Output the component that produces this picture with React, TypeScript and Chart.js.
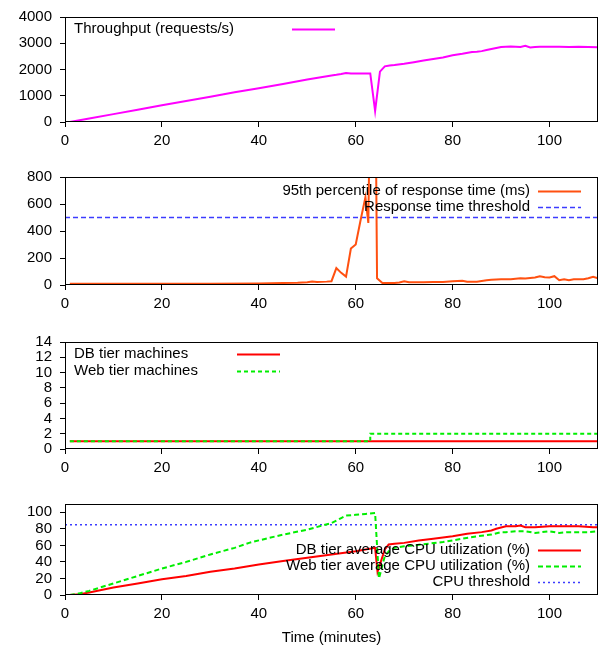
import React, { useEffect, useRef } from 'react';
import { Chart, registerables } from 'chart.js';

Chart.register(...registerables);

// ---------- data ----------
const X_MIN = 0;
const X_MAX = 110;
const xTicks = [0, 20, 40, 60, 80, 100];
const timeTitle = 'Time (minutes)';

const tpLabel = 'Throughput (requests/s)';
const tpTicks = [0, 1000, 2000, 3000, 4000];
const tpTimes = [1, 5, 10, 15, 20, 25, 30, 35, 40, 45, 50, 55, 56, 57, 58, 59, 60, 61, 62, 63, 64, 65, 66, 67, 68, 70, 72, 74, 75, 76, 78, 80, 82, 84, 85, 86, 87, 88, 90, 91, 92, 93, 94, 95, 96, 97, 98, 100, 102, 104, 106, 108, 110];
const tpValues = [0, 135, 300, 465, 635, 800, 965, 1130, 1285, 1450, 1615, 1775, 1800, 1830, 1870, 1845, 1845, 1845, 1845, 1850, 420, 1920, 2120, 2150, 2170, 2220, 2280, 2340, 2370, 2400, 2460, 2540, 2600, 2670, 2680, 2700, 2740, 2780, 2860, 2870, 2880, 2870, 2860, 2900, 2840, 2860, 2870, 2870, 2870, 2860, 2870, 2860, 2850];

const rtLabel = '95th percentile of response time (ms)';
const rtThresholdLabel = 'Response time threshold';
const rtThreshold = 500;
const rtTicks = [0, 200, 400, 600, 800];
const rtTimes = [1, 10, 20, 30, 40, 45, 48, 50, 51, 52, 54, 55, 56, 57, 58, 59, 60, 61, 62, 62.6, 63, 64, 64.4, 65.5, 68, 69, 70, 71, 74, 76, 78, 80, 82, 83, 85, 87, 88, 90, 92, 94, 95, 97, 98, 99, 100, 101, 102, 103, 104, 105, 107, 108, 109, 110];
const rtValues = [10, 10, 10, 10, 12, 14, 16, 20, 25, 22, 25, 28, 125, 90, 62, 270, 300, 480, 650, 460, 1500, 1800, 50, 15, 15, 18, 28, 20, 20, 22, 22, 28, 32, 25, 25, 35, 38, 42, 42, 50, 48, 55, 65, 58, 55, 65, 35, 42, 35, 42, 42, 50, 60, 50];

const dbMachLabel = 'DB tier machines';
const webMachLabel = 'Web tier machines';
const machTicks = [0, 2, 4, 6, 8, 10, 12, 14];
const machTimes = [1, 63, 110];
const dbMachines = [1, 1, 1];
const webMachines = [1, 2, 2];

const dbCpuLabel = 'DB tier average CPU utilization (%)';
const webCpuLabel = 'Web tier average CPU utilization (%)';
const cpuThresholdLabel = 'CPU threshold';
const cpuThreshold = 85;
const cpuTicks = [0, 20, 40, 60, 80, 100];
const dbCpuTimes = [1, 3, 5, 10, 15, 20, 25, 30, 35, 40, 45, 50, 55, 60, 62, 64, 64.5, 66, 66.8, 68, 70, 73, 76, 80, 83, 86, 88, 89, 91, 93, 94, 95, 97, 100, 103, 106, 109, 110];
const dbCpu = [0, 1, 3, 9, 14, 19, 23, 28, 32, 37, 41, 45, 49, 53, 55, 57, 28, 55, 61, 62, 63, 66, 68, 71, 74, 76, 78, 80, 83, 83, 84, 82, 82, 83, 83, 83, 82, 82];
const webCpuTimes = [1, 3, 5, 10, 15, 20, 25, 30, 35, 38, 40, 45, 50, 55, 57, 58, 60, 62, 64, 64.8, 66, 67, 68, 70, 72, 75, 78, 80, 82, 85, 88, 90, 91, 93, 95, 97, 100, 102, 104, 106, 108, 110];
const webCpu = [0, 2, 5, 14, 23, 32, 40, 49, 57, 63, 66, 73, 79, 87, 93, 96, 97, 98, 99, 20, 47, 54, 57, 59, 60, 62, 64, 66, 68, 71, 73, 76, 76, 77, 77, 75, 77, 75, 76, 76, 76, 77];

// ---------- helpers ----------
const FONT_FAMILY = '"Liberation Sans", Arial, Helvetica, sans-serif';
const FONT_SIZE = 15;

const pts = (xs: number[], ys: number[]) => xs.map((x, i) => ({ x, y: ys[i] }));
const hline = (v: number) => [{ x: X_MIN, y: v }, { x: X_MAX, y: v }];

const gnuPlugin = {
  id: 'gnu',
  afterDatasetsDraw(chart: any, _args: any, opts: any) {
    const { ctx, chartArea: a } = chart;
    ctx.save();
    ctx.strokeStyle = '#000';
    ctx.lineWidth = 1;
    ctx.setLineDash([]);
    ctx.strokeRect(Math.round(a.left) + 0.5, Math.round(a.top) + 0.5, Math.round(a.right - a.left) - 1, Math.round(a.bottom - a.top) - 1);
    const entries: number[] = opts.entries || [];
    ctx.font = `${FONT_SIZE}px ${FONT_FAMILY}`;
    ctx.textBaseline = 'middle';
    ctx.fillStyle = '#000';
    entries.forEach((di, row) => {
      const ds = chart.data.datasets[di];
      const y = a.top + opts.top + row * opts.row;
      if (opts.align === 'left') {
        ctx.textAlign = 'left';
        ctx.fillText(ds.label, a.left + opts.textX, y);
      } else {
        ctx.textAlign = 'right';
        ctx.fillText(ds.label, a.right - opts.textX, y);
      }
      const sx0 = opts.align === 'left' ? a.left + opts.sampleX0 : a.right - opts.sampleX0;
      const sx1 = opts.align === 'left' ? a.left + opts.sampleX1 : a.right - opts.sampleX1;
      ctx.beginPath();
      ctx.strokeStyle = ds.borderColor;
      ctx.lineWidth = ds.borderWidth;
      ctx.setLineDash(ds.borderDash || []);
      ctx.moveTo(sx0, Math.round(y) + 0.5);
      ctx.lineTo(sx1, Math.round(y) + 0.5);
      ctx.stroke();
    });
    ctx.restore();
  },
};

function makeOptions(p: any) {
  const font = { family: FONT_FAMILY, size: FONT_SIZE };
  return {
    responsive: false,
    animation: false,
    events: [],
    layout: { padding: { top: p.padTop, right: 2, left: 0, bottom: 0 } },
    plugins: {
      legend: { display: false },
      tooltip: { enabled: false },
      gnu: p.legend,
    },
    elements: { point: { radius: 0 }, line: { tension: 0 } },
    scales: {
      x: {
        type: 'linear',
        min: X_MIN,
        max: X_MAX,
        afterBuildTicks: (s: any) => { s.ticks = xTicks.map((v) => ({ value: v })); },
        afterFit: (s: any) => { s.height = p.xH; },
        grid: { drawOnChartArea: false, drawTicks: true, tickLength: 5, color: '#000' },
        border: { display: false },
        ticks: { color: '#000', font, padding: 5, maxRotation: 0, autoSkip: false, callback: (v: any) => String(v) },
        title: p.title
          ? { display: true, text: p.title, color: '#000', font, padding: { top: 4, bottom: 2 } }
          : { display: false },
      },
      y: {
        type: 'linear',
        min: p.yTicks[0],
        max: p.yMax,
        afterBuildTicks: (s: any) => { s.ticks = p.yTicks.map((v: number) => ({ value: v })); },
        afterFit: (s: any) => { s.width = 65; },
        grid: { drawOnChartArea: false, drawTicks: true, tickLength: 5, color: '#000' },
        border: { display: false },
        ticks: { color: '#000', font, padding: 8, autoSkip: false, callback: (v: any) => String(v) },
      },
    },
  };
}

const panels: any[] = [
  {
    top: 0, height: 160, padTop: 14, xH: 38, yTicks: tpTicks, yMax: 4000,
    legend: { entries: [0], align: 'left', textX: 9, top: 12, row: 17, sampleX0: 227, sampleX1: 270 },
    datasets: [
      { label: tpLabel, data: pts(tpTimes, tpValues), borderColor: '#ff00ff', borderWidth: 2 },
    ],
  },
  {
    top: 160, height: 160, padTop: 17, xH: 35, yTicks: rtTicks, yMax: 800,
    legend: { entries: [0, 1], align: 'right', textX: 68, top: 14, row: 16, sampleX0: 60, sampleX1: 17 },
    datasets: [
      { label: rtLabel, data: pts(rtTimes, rtValues), borderColor: '#ff5010', borderWidth: 2, order: 0, clip: 0 },
      { label: rtThresholdLabel, data: hline(rtThreshold), borderColor: '#3c3cff', borderWidth: 1.5, borderDash: [5, 3], order: 1 },
    ],
  },
  {
    top: 320, height: 165, padTop: 22, xH: 36, yTicks: machTicks, yMax: 14,
    legend: { entries: [0, 1], align: 'left', textX: 9, top: 12, row: 17, sampleX0: 172, sampleX1: 215 },
    datasets: [
      { label: dbMachLabel, data: pts(machTimes, dbMachines), borderColor: '#ff0000', borderWidth: 2, stepped: 'before', order: 1 },
      { label: webMachLabel, data: pts(machTimes, webMachines), borderColor: '#00ee00', borderWidth: 2, borderDash: [4, 3], stepped: 'before', order: 0 },
    ],
  },
  {
    top: 485, height: 164, padTop: 19, xH: 54, yTicks: cpuTicks, yMax: 110, title: timeTitle,
    legend: { entries: [0, 1, 2], align: 'right', textX: 68, top: 46, row: 16, sampleX0: 60, sampleX1: 17 },
    datasets: [
      { label: dbCpuLabel, data: pts(dbCpuTimes, dbCpu), borderColor: '#ff0000', borderWidth: 2, order: 1 },
      { label: webCpuLabel, data: pts(webCpuTimes, webCpu), borderColor: '#00ee00', borderWidth: 2, borderDash: [5, 3], order: 0 },
      { label: cpuThresholdLabel, data: hline(cpuThreshold), borderColor: '#3c3cff', borderWidth: 1.5, borderDash: [2, 3], order: 2 },
    ],
  },
];

function Panel({ p }: { p: any }) {
  const ref = useRef<HTMLCanvasElement | null>(null);
  useEffect(() => {
    if (!ref.current) return;
    const chart = new Chart(ref.current, {
      type: 'line',
      data: { datasets: p.datasets.map((d: any) => ({ ...d, fill: false, pointRadius: 0 })) },
      options: makeOptions(p) as any,
      plugins: [gnuPlugin as any],
    });
    return () => chart.destroy();
  }, [p]);
  return (
    <canvas
      ref={ref}
      width={600}
      height={p.height}
      style={{ position: 'absolute', left: 0, top: p.top, width: 600, height: p.height }}
    />
  );
}

export default function App() {
  return (
    <div style={{ position: 'absolute', left: 0, top: 0, width: 600, height: 649, background: '#fff' }}>
      {panels.map((p, i) => (
        <Panel key={i} p={p} />
      ))}
    </div>
  );
}
